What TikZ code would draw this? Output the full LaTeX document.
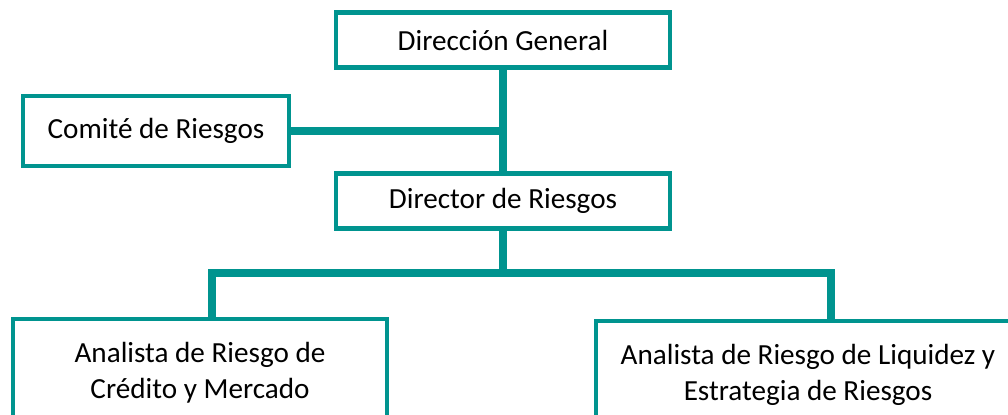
\documentclass[tikz,border=0pt]{standalone}
\usepackage{fontspec}
\setmainfont{Carlito}
\definecolor{teal1}{RGB}{0,148,143}
\tikzstyle{cargo}=[rectangle, draw=teal1, line width=2.3pt, inner sep=0pt, align=center, font=\fontsize{16.6}{20.5}\selectfont]
\tikzstyle{conn}=[draw=teal1, line width=4.5pt]
\newcommand{\cargo}{\node[cargo]}

\begin{document}
\begin{tikzpicture}[x=0.02cm, y=-0.02cm]
            \useasboundingbox (0,0) rectangle (1008,414);
            \clip (0,0) rectangle (1008,414);
            \cargo[minimum width=6.7cm, minimum height=1.1cm] (dg) at (503,40) {Dirección General};
            \cargo[minimum width=5.32cm, minimum height=1.40cm] (comite) at (156,131) {Comité de Riesgos};
            \cargo[minimum width=6.7cm, minimum height=1.1cm] (dr) at (503,201) {Director de Riesgos};
            \cargo[minimum width=7.5cm, minimum height=2.16cm] (credito) at (200,373) {Analista de Riesgo de\\Crédito y Mercado};
            \cargo[minimum width=8.5cm, minimum height=2.16cm] (liquidez) at (808,375) {Analista de Riesgo de Liquidez y\\Estrategia de Riesgos};
            \coordinate (j1) at (503,131);
            \coordinate (bl) at (212,273);
            \coordinate (br) at (831,273);
            \path[conn]
                (dg) edge (dr)
                (comite) edge (j1)
                (dr) edge (dr |- bl)
            ;
            \draw[conn] (credito.north -| bl) -- (bl) -- (br) -- (br |- liquidez.north);
        \end{tikzpicture}
\end{document}
